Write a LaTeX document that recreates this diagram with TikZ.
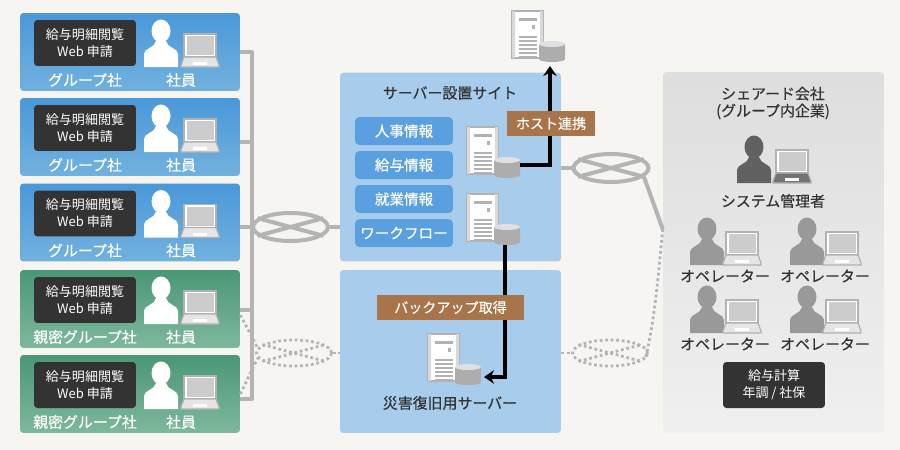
\documentclass[tikz,border=0pt]{standalone}
\usepackage{fontspec}
\setmainfont{Noto Sans CJK JP}
\newfontfamily\medfont[FakeBold=0.35]{Noto Sans CJK JP}
\usepackage{xcolor}
\usetikzlibrary{positioning,arrows.meta,shapes.geometric}
\definecolor{pagebg}{HTML}{F7F5F2}
\definecolor{sitebg}{HTML}{A8CCEC}
\definecolor{pillblue}{HTML}{5A9FE0}
\definecolor{tagbrown}{HTML}{A8754A}
\definecolor{boxdark}{HTML}{333333}
\definecolor{netgray}{HTML}{B4B4B4}
\definecolor{inktext}{HTML}{333333}
\definecolor{bluetop}{HTML}{4A98DA}
\definecolor{bluelow}{HTML}{72B1DE}
\definecolor{greentop}{HTML}{4A9775}
\definecolor{greenlow}{HTML}{7EB89D}

\begin{document}
\begin{tikzpicture}[x=0.02cm,y=-0.02cm,
        card/.style={rectangle,rounded corners=0.07cm,minimum width=4.4cm,minimum height=1.56cm,inner sep=0pt},
        bluecard/.style={card,top color=bluetop,bottom color=bluelow},
        greencard/.style={card,top color=greentop,bottom color=greenlow},
        site/.style={rectangle,rounded corners=0.07cm,fill=sitebg,minimum width=4.42cm,inner sep=0pt},
        darkbox/.style={rectangle,rounded corners=0.07cm,fill=boxdark,text=white,align=center,minimum width=2.04cm,minimum height=0.92cm,inner sep=0pt,font={\fontsize{7.4}{9.7}\selectfont}},
        pill/.style={rectangle,rounded corners=0.09cm,fill=pillblue,text=white,minimum width=1.96cm,minimum height=0.56cm,inner sep=0pt,font={\fontsize{8.3}{9}\selectfont\medfont}},
        tagbox/.style={rectangle,fill=tagbrown,text=white,minimum height=0.5cm,inner sep=0pt,font={\fontsize{8}{9}\selectfont\medfont}},
        whitelab/.style={text=white,inner sep=0pt,font={\fontsize{8.5}{9}\selectfont\medfont}},
        inklab/.style={text=inktext,inner sep=0pt,align=center,font={\fontsize{8.5}{9.7}\selectfont\medfont}},
        netline/.style={draw=netgray,line width=0.08cm},
        dotline/.style={draw=netgray,line width=0.055cm,dash pattern=on 0.055cm off 0.055cm},
        netnode/.style={ellipse,netline,minimum width=1.5cm,minimum height=0.56cm,inner sep=0pt},
        dotnode/.style={ellipse,dotline,minimum width=1.5cm,minimum height=0.52cm,inner sep=0pt},
        arrow/.style={-{Stealth[length=0.2cm,width=0.27cm]},line width=0.09cm,black},
        pics/person/.style={code={
            \fill[#1] (0,-36) ellipse [x radius=9.5,y radius=11.5];
            \fill[#1] (-17,0) -- (-17,-13) .. controls (-17,-19) and (-6,-19) .. (-5,-26)
                -- (5,-26) .. controls (6,-19) and (17,-19) .. (17,-13) -- (17,0) -- cycle;
        }},
        pics/laptop/.style={code={
            \filldraw[fill=white,draw=black!30,line width=0.025cm] (-16,-33) rectangle (16,-10);
            \fill[black!20] (-13.5,-31) rectangle (13.5,-12);
            \filldraw[fill=#1,draw=black!30,line width=0.025cm] (-16,-10) -- (16,-10) -- (19,-2) -- (19,0) -- (-19,0) -- (-19,-2) -- cycle;
            \fill[white] (-7,-5) rectangle (7,-2);
        }},
        pics/server/.style={code={
            \filldraw[fill=white,draw=black!30,line width=0.025cm] (0,0) rectangle (31,47);
            \fill[black!15] (0,0) rectangle (3,47) (28,0) rectangle (31,47);
            \fill[black!30] (7,7) rectangle (25,10);
            \fill[black!30] (20,14) rectangle (23,18);
            \foreach \s in {25,29,...,45} \fill[black!30] (7,\s) rectangle (25,\s+2);
            \fill[black!32] (27,33) -- (27,48) .. controls (27,52) and (53,52) .. (53,48) -- (53,33) -- cycle;
            \fill[black!12] (40,33) ellipse [x radius=13,y radius=3];
            \coordinate (-dbE) at (53,41);
            \coordinate (-dbS) at (38,51);
        }}]
    \fill[pagebg] (0,0) rectangle (900,450);
    \useasboundingbox (0,0) rectangle (900,450);
    \node[site,minimum height=3.78cm] (siteMain) at (450.5,167) {};
    \node[site,minimum height=3.26cm] (siteDr) at (450.5,351.5) {};
    \node[rectangle,rounded corners=0.07cm,top color=black!13,bottom color=black!6,minimum width=4.42cm,minimum height=7.22cm,inner sep=0pt] (panel) at (773.5,252.5) {};
    \foreach \i/\yy/\sty/\grp in {1/52/bluecard/グループ社,2/137/bluecard/グループ社,3/222.5/bluecard/グループ社,4/309/greencard/親密グループ社,5/394/greencard/親密グループ社}{
        \node[\sty] (box\i) at (130,\yy) {};
        \node[darkbox] (app\i) at (85,\yy-9) {給与明細閲覧\\Web 申請};
        \pic at (161,\yy+15) {person=white};
        \pic at (200,\yy+15) {laptop=black!10};
        \node[whitelab] (grp\i) at (85,\yy+28) {\grp};
        \node[whitelab] (emp\i) at (181,\yy+28) {社員};
    }
    \coordinate (bus1) at (252,52);
    \coordinate (bus2) at (252,142);
    \coordinate (bus3) at (252,227);
    \coordinate (bus4) at (252,310);
    \coordinate (bus5) at (252,399);
    \node[netnode] (netL) at (290.5,227) {};
    \node[netnode] (netR) at (611,168) {};
    \node[dotnode] (dotL) at (294,353) {};
    \node[dotnode] (dotR) at (610,353) {};
    \coordinate (joint) at (panel.west |- 0,229);
    \foreach \n in {netL,netR}{
        \draw[netline] (\n.165) -- (\n.-15);
        \draw[netline] (\n.195) -- (\n.15);
    }
    \foreach \n in {dotL,dotR}{
        \draw[dotline] (\n.165) -- (\n.-15);
        \draw[dotline] (\n.195) -- (\n.15);
    }
    \draw[dotline] (box4.east |- 0,315) -- (dotL.172);
    \draw[dotline] (box5.east |- 0,394) -- (dotL.188);
    \draw[netline,line join=round] (box1.east |- bus1) -- (bus1) -- (bus5) -- (box5.east |- bus5);
    \foreach \i in {2,3,4} \draw[netline] (box\i.east |- bus\i) -- (bus\i);
    \draw[netline] (box3.east |- bus3) -- (netL);
    \draw[netline] (netL) -- (siteMain.west |- netL);
    \draw[netline] (siteMain.east |- netR) -- (netR);
    \draw[netline] (netR.-15) -- (joint);
    \draw[dotline] (joint) .. controls (658,280) and (654,325) .. (dotR.-10);
    \draw[dotline] (dotL) -- (siteDr.west |- dotL);
    \draw[dotline] (siteDr.east |- dotR) -- (dotR);
    \node[inklab] (titleMain) at (450,93) {サーバー設置サイト};
    \node[pill] (hr) at (404,131) {人事情報};
    \node[pill] (pay) at (404,165) {給与情報};
    \node[pill] (work) at (404,199) {就業情報};
    \node[pill] (flow) at (404,233) {ワークフロー};
    \pic (srvTop) at (512,11) {server};
    \pic (srvHost) at (467,127) {server};
    \pic (srvBack) at (467,194) {server};
    \pic (srvDr) at (428,334) {server};
    \draw[arrow,shorten >=0.08cm] ([yshift=0.06cm]srvHost-dbE) -| (srvTop-dbS);
    \draw[arrow,shorten >=0.06cm] (srvBack-dbS) |- ([yshift=-0.04cm]srvDr-dbE);
    \node[tagbox,minimum width=1.75cm] (hostTag) at (551,123.5) {ホスト連携};
    \node[tagbox,minimum width=2.94cm] (backTag) at (450.5,307.5) {バックアップ取得};
    \node[inklab] (titleDr) at (450,403) {災害復旧用サーバー};
    \node[inklab] (titleShared) at (773,103) {シェアード会社\\(グループ内企業)};
    \pic at (754,183) {person=black!62};
    \pic at (792,183) {laptop=black!55};
    \node[inklab] (admin) at (773,201) {システム管理者};
    \foreach \i/\xx/\yy in {1/707/265,2/807/265,3/707/333,4/807/333}{
        \pic at (\xx,\yy) {person=black!40};
        \pic at (\xx+35,\yy) {laptop=black!10};
        \node[inklab] (op\i) at (\xx+18,\yy+11) {オペレーター};
    }
    \node[darkbox] (calc) at (774,385) {給与計算\\年調 / 社保};
\end{tikzpicture}
\end{document}
